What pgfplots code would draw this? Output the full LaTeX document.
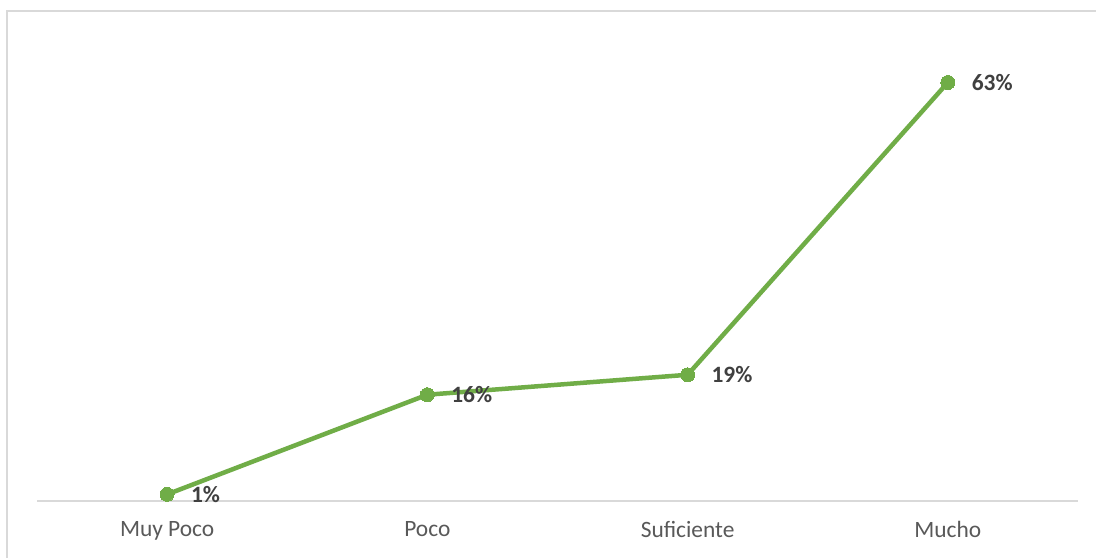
\documentclass[border=0pt]{standalone}
\usepackage{pgfplots}
\pgfplotsset{compat=1.18}
\usepackage{fontspec}
\setmainfont{Carlito}
\definecolor{exgreen}{RGB}{112,173,71}
\definecolor{framegray}{RGB}{217,217,217}
\definecolor{ticklab}{RGB}{89,89,89}
\definecolor{datalab}{RGB}{64,64,64}
\begin{document}
\begin{tikzpicture}[x=1bp,y=1bp]
\useasboundingbox (0,0) rectangle (1096,558);
\fill[white] (0,0) rectangle (1096,558);
\draw[framegray, line width=2bp] (7,0) -- (7,547) -- (1096,547);
\begin{axis}[
  at={(37bp,57bp)}, anchor=south west,
  scale only axis,
  width=1041bp, height=465bp,
  xmin=-0.5, xmax=3.5, ymin=0, ymax=70,
  axis y line=none,
  axis x line*=bottom,
  x axis line style={framegray, line width=1.5bp, -},
  xtick=data,
  xticklabels={Muy Poco, Poco, Suficiente, Mucho},
  major tick length=0pt,
  xticklabel style={font=\fontsize{23.5}{26}\selectfont, text=ticklab, anchor=north, inner sep=0pt, yshift=-20bp},
  clip=false,
  /pgf/number format/assume math mode=true,
  nodes near coords={\pgfmathprintnumber{\pgfplotspointmeta}\%},
  every node near coord/.style={anchor=west, xshift=24bp, yshift=0bp, font=\fontsize{23.5}{26}\selectfont\bfseries, text=datalab, inner sep=0pt},
]
\addplot[exgreen, line width=4.5bp, mark=*, mark size=7bp, mark options={fill=exgreen, draw=exgreen, line width=0pt}]
  coordinates {(0,1) (1,16) (2,19) (3,63)};
\end{axis}
\end{tikzpicture}
\end{document}
